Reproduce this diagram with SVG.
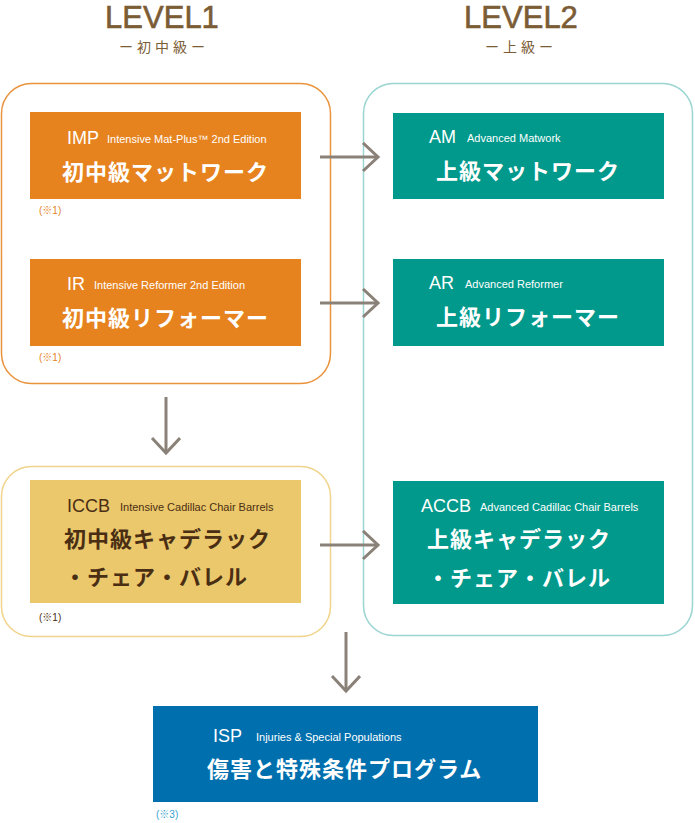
<svg xmlns="http://www.w3.org/2000/svg" width="695" height="823" viewBox="0 0 695 823">
<style>
.lvl{font-family:"Liberation Sans",Arial,sans-serif;font-size:31px;fill:#7b5c35;stroke:#7b5c35;stroke-width:0.6;text-anchor:middle}
.sub{font-family:"Noto Sans CJK JP",sans-serif;font-size:14px;fill:#7b5c35;letter-spacing:4px}
.code{font-family:"Liberation Sans",Arial,sans-serif;font-size:18px}
.en{font-family:"Liberation Sans",Arial,sans-serif;font-size:11px}
.jp{font-family:"Noto Sans CJK JP",sans-serif;font-size:22px;font-weight:bold;letter-spacing:1px}
.note{font-family:"Liberation Sans","Noto Sans CJK JP",sans-serif;font-size:10px}
.w{fill:#ffffff}
.d{fill:#4a2e14}
.con{fill:none;stroke:#8a8178;stroke-width:3}
</style>
<defs>
<marker id="ah" markerWidth="20" markerHeight="32" refX="17" refY="15" orient="auto" markerUnits="userSpaceOnUse">
<path d="M2,1 L17,15 L2,29" fill="none" stroke="#8a8178" stroke-width="3"/>
</marker>
</defs>
<g id="titles">
<text class="lvl" x="162" y="28">LEVEL1</text>
<text class="sub" x="119" y="52">ー初中級ー</text>
<text class="lvl" x="521" y="28">LEVEL2</text>
<text class="sub" x="485" y="52">ー上級ー</text>
</g>
<g id="level1-group">
<rect x="1.5" y="83.5" width="329" height="300" rx="30" fill="none" stroke="#ea933d" stroke-width="1.5"/>
</g>
<g id="level2-group">
<rect x="363.5" y="83.5" width="329" height="552" rx="30" fill="none" stroke="#9ad5d2" stroke-width="1.5"/>
</g>
<g id="iccb-group">
<rect x="1.5" y="466.5" width="329" height="170" rx="30" fill="none" stroke="#f1d48b" stroke-width="1.5"/>
</g>
<g id="connectors">
<line class="con" x1="320" y1="157" x2="378" y2="157" marker-end="url(#ah)"/>
<line class="con" x1="320" y1="303" x2="378" y2="303" marker-end="url(#ah)"/>
<line class="con" x1="320" y1="545" x2="378" y2="545" marker-end="url(#ah)"/>
<line class="con" x1="166" y1="397" x2="166" y2="453" marker-end="url(#ah)"/>
<line class="con" x1="346" y1="632" x2="346" y2="691" marker-end="url(#ah)"/>
</g>
<g id="imp">
<rect x="30" y="112" width="271" height="87" fill="#e6831f"/>
<text class="code w" x="67" y="144">IMP</text>
<text class="en w" x="107" y="143">Intensive Mat-Plus™ 2nd Edition</text>
<text class="jp w" x="62" y="180">初中級マットワーク</text>
<text class="note" x="39" y="214" fill="#e6831f">(※1)</text>
</g>
<g id="ir">
<rect x="30" y="259" width="271" height="87" fill="#e6831f"/>
<text class="code w" x="67" y="290">IR</text>
<text class="en w" x="94" y="289">Intensive Reformer 2nd Edition</text>
<text class="jp w" x="62" y="326">初中級リフォーマー</text>
<text class="note" x="39" y="361" fill="#e6831f">(※1)</text>
</g>
<g id="iccb">
<rect x="30" y="480" width="271" height="123" fill="#eac86b"/>
<text class="code d" x="67" y="512">ICCB</text>
<text class="en d" x="120" y="511">Intensive Cadillac Chair Barrels</text>
<text class="jp d" x="64" y="547">初中級キャデラック</text>
<text class="jp d" x="64" y="585">・チェア・バレル</text>
<text class="note d" x="39" y="621">(※1)</text>
</g>
<g id="am">
<rect x="393" y="113" width="271" height="86" fill="#00998b"/>
<text class="code w" x="429" y="143">AM</text>
<text class="en w" x="467" y="142">Advanced Matwork</text>
<text class="jp w" x="436" y="179">上級マットワーク</text>
</g>
<g id="ar">
<rect x="393" y="259" width="271" height="87" fill="#00998b"/>
<text class="code w" x="429" y="289">AR</text>
<text class="en w" x="465" y="288">Advanced Reformer</text>
<text class="jp w" x="436" y="325">上級リフォーマー</text>
</g>
<g id="accb">
<rect x="393" y="481" width="271" height="123" fill="#00998b"/>
<text class="code w" x="421" y="512">ACCB</text>
<text class="en w" x="480" y="511">Advanced Cadillac Chair Barrels</text>
<text class="jp w" x="427" y="547">上級キャデラック</text>
<text class="jp w" x="427" y="586">・チェア・バレル</text>
</g>
<g id="isp">
<rect x="153" y="706" width="385" height="96" fill="#006fae"/>
<text class="code w" x="213" y="742">ISP</text>
<text class="en w" x="256" y="741">Injuries &amp; Special Populations</text>
<text class="jp w" x="207" y="777">傷害と特殊条件プログラム</text>
<text class="note" x="156" y="818" fill="#3a9fd0">(※3)</text>
</g>
</svg>
